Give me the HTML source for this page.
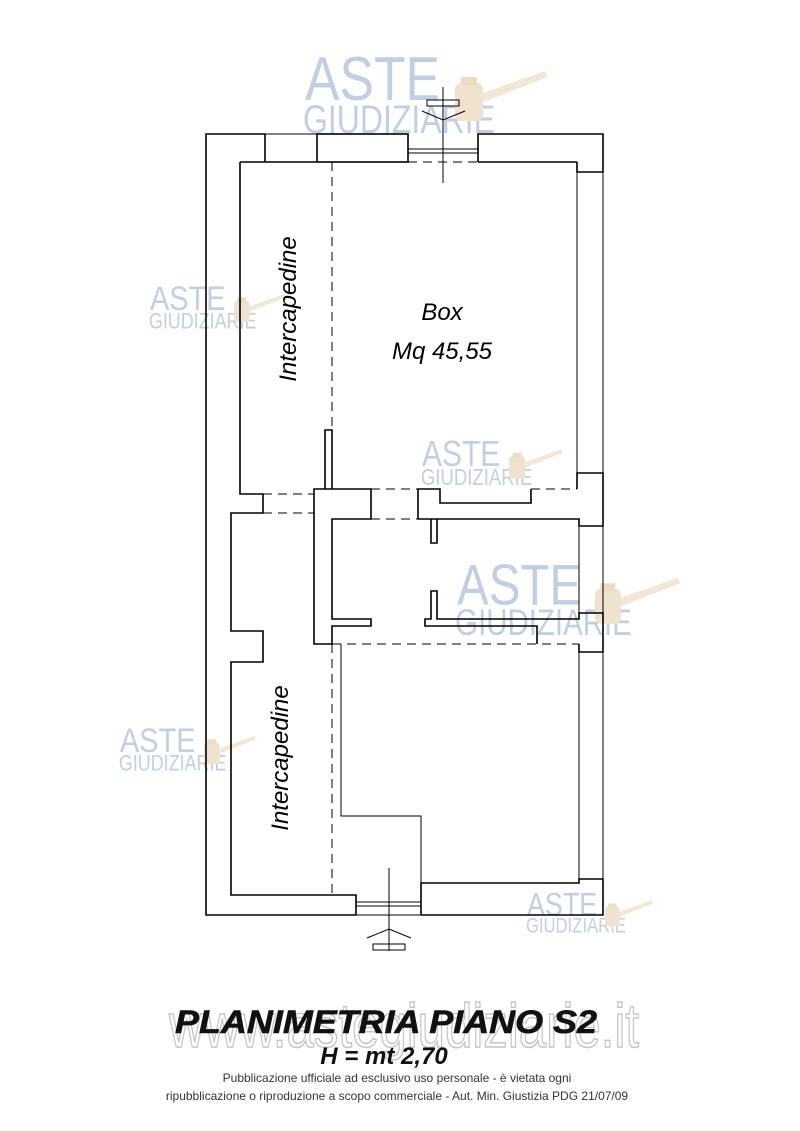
<!DOCTYPE html>
<html><head><meta charset="utf-8"><style>
html,body{margin:0;padding:0;background:#fff;width:800px;height:1131px;overflow:hidden}
svg{display:block}
</style></head><body>
<svg width="800" height="1131" viewBox="0 0 800 1131" xmlns="http://www.w3.org/2000/svg">
<defs>
<g id="wm">
  <text x="0" y="45" font-family="Liberation Sans, sans-serif" font-size="62" fill="#c2cfe3" textLength="135" lengthAdjust="spacingAndGlyphs">ASTE</text>
  <text x="-2" y="78" font-family="Liberation Sans, sans-serif" font-size="40" fill="#c2cfe3" textLength="192" lengthAdjust="spacingAndGlyphs">GIUDIZIARIE</text>
  <path d="M172 40 L240 16 L243 22 L176 48 Z" fill="#f2e7d6"/>
  <rect x="150" y="28" width="28" height="38" rx="6" fill="#efe2cf"/>
  <rect x="156" y="22" width="16" height="8" fill="#ecdcc6"/>
</g>
</defs>
<use href="#wm" transform="translate(305,55)"/>
<use href="#wm" transform="translate(150,285) scale(0.56)"/>
<use href="#wm" transform="translate(422,440) scale(0.58)"/>
<use href="#wm" transform="translate(457,563) scale(0.92)"/>
<use href="#wm" transform="translate(120,727) scale(0.56)"/>
<use href="#wm" transform="translate(527,892) scale(0.52)"/>

<g fill="none" stroke="#000" stroke-width="1.6" stroke-linejoin="miter">
  <polyline points="356,915 206,915 206,134 265,134 265,162"/>
  <line x1="265" y1="134" x2="317" y2="134" stroke-width="1"/>
  <rect x="317" y="134" width="91" height="28"/>
  <polyline points="478,162 478,134 603,134 603,172 577,172 577,162"/>
  <line x1="408" y1="149" x2="478" y2="149" stroke-width="1"/>
  <line x1="408" y1="153" x2="478" y2="153" stroke-width="1"/>
  <line x1="240" y1="162" x2="317" y2="162"/>
  <line x1="478" y1="162" x2="577" y2="162"/>
  <polyline points="240,162 240,494 263,494 263,513 231,513 231,631 263,631 263,662 231,662 231,895 356,895 356,915"/>
  <polyline points="325,489 325,430 332,430 332,489"/>
  <polygon points="314,489 371,489 371,519 332,519 332,619 371,619 371,626 332,626 332,644 314,644"/>
  <polyline points="418,519 418,489 440,489 440,503 531,503 531,489"/>
  <polyline points="577,489 577,473 603,473 603,526 579,526 579,519 418,519"/>
  <polyline points="431,519 431,543 437,543 437,519"/>
  <polyline points="537,644 537,626 425,626 425,619 431,619 431,591 437,591 437,619 537,619 579,619 579,613 603,613 603,652 579,652 579,644"/>
  <polyline points="421,915 421,883 579,883 579,879 603,879 603,915 421,915"/>
  <line x1="356" y1="915" x2="421" y2="915" stroke-width="1"/>
  <line x1="356" y1="902" x2="421" y2="902" stroke-width="1"/>
  <line x1="356" y1="906" x2="421" y2="906" stroke-width="1"/>
</g>
<g fill="none" stroke="#000" stroke-width="1">
  <line x1="603" y1="172" x2="603" y2="473"/>
  <line x1="577" y1="172" x2="577" y2="473"/>
  <line x1="603" y1="526" x2="603" y2="613"/>
  <line x1="603" y1="652" x2="603" y2="879"/>
  <line x1="579" y1="526" x2="579" y2="613"/>
  <line x1="579" y1="652" x2="579" y2="879"/>
  <polyline points="341,644 341,816 421,816 421,883"/>
</g>
<g fill="none" stroke="#000" stroke-width="1" stroke-dasharray="9,6">
  <line x1="332" y1="162" x2="332" y2="430"/>
  <line x1="408" y1="162" x2="478" y2="162"/>
  <line x1="263" y1="494" x2="314" y2="494"/>
  <line x1="263" y1="513" x2="314" y2="513"/>
  <line x1="371" y1="489" x2="418" y2="489"/>
  <line x1="371" y1="519" x2="418" y2="519"/>
  <line x1="531" y1="489" x2="577" y2="489"/>
  <line x1="332" y1="644" x2="579" y2="644"/>
  <line x1="332" y1="644" x2="332" y2="895"/>
</g>
<g fill="none" stroke="#000" stroke-width="1">
  <line x1="443" y1="87" x2="443" y2="183"/>
  <rect x="427" y="100" width="32" height="6"/>
  <polyline points="422,111 443,120 465,111"/>
  <line x1="389" y1="868" x2="389" y2="951"/>
  <polyline points="367,938 389,929 411,938"/>
  <rect x="373" y="944" width="32" height="6"/>
</g>
<g font-family="Liberation Sans, sans-serif" font-style="italic" fill="#000">
  <text x="442" y="320" font-size="24" text-anchor="middle">Box</text>
  <text x="442" y="359" font-size="24" text-anchor="middle">Mq 45,55</text>
  <text transform="translate(296,309) rotate(-90)" font-size="24" text-anchor="middle">Intercapedine</text>
  <text transform="translate(288,758) rotate(-90)" font-size="24" text-anchor="middle">Intercapedine</text>
</g>
<text x="404" y="1047" font-family="Liberation Sans, sans-serif" font-size="62" fill="#fff" stroke="#c4c4c4" stroke-width="1.5" text-anchor="middle" textLength="470" lengthAdjust="spacingAndGlyphs">www.astegiudiziarie.it</text>
<text x="386" y="1033" font-family="Liberation Sans, sans-serif" font-size="32" font-weight="bold" font-style="italic" fill="#111" stroke="#111" stroke-width="0.6" text-anchor="middle" textLength="422" lengthAdjust="spacingAndGlyphs">PLANIMETRIA  PIANO  S2</text>
<text x="384" y="1064" font-family="Liberation Sans, sans-serif" font-size="24" font-weight="bold" font-style="italic" fill="#111" text-anchor="middle">H = mt 2,70</text>
<text x="397" y="1082" font-family="Liberation Sans, sans-serif" font-size="12" fill="#333" text-anchor="middle">Pubblicazione ufficiale ad esclusivo uso personale - è vietata ogni</text>
<text x="397" y="1100" font-family="Liberation Sans, sans-serif" font-size="12" fill="#333" text-anchor="middle">ripubblicazione o riproduzione a scopo commerciale - Aut. Min. Giustizia PDG 21/07/09</text>
</svg>
</body></html>
